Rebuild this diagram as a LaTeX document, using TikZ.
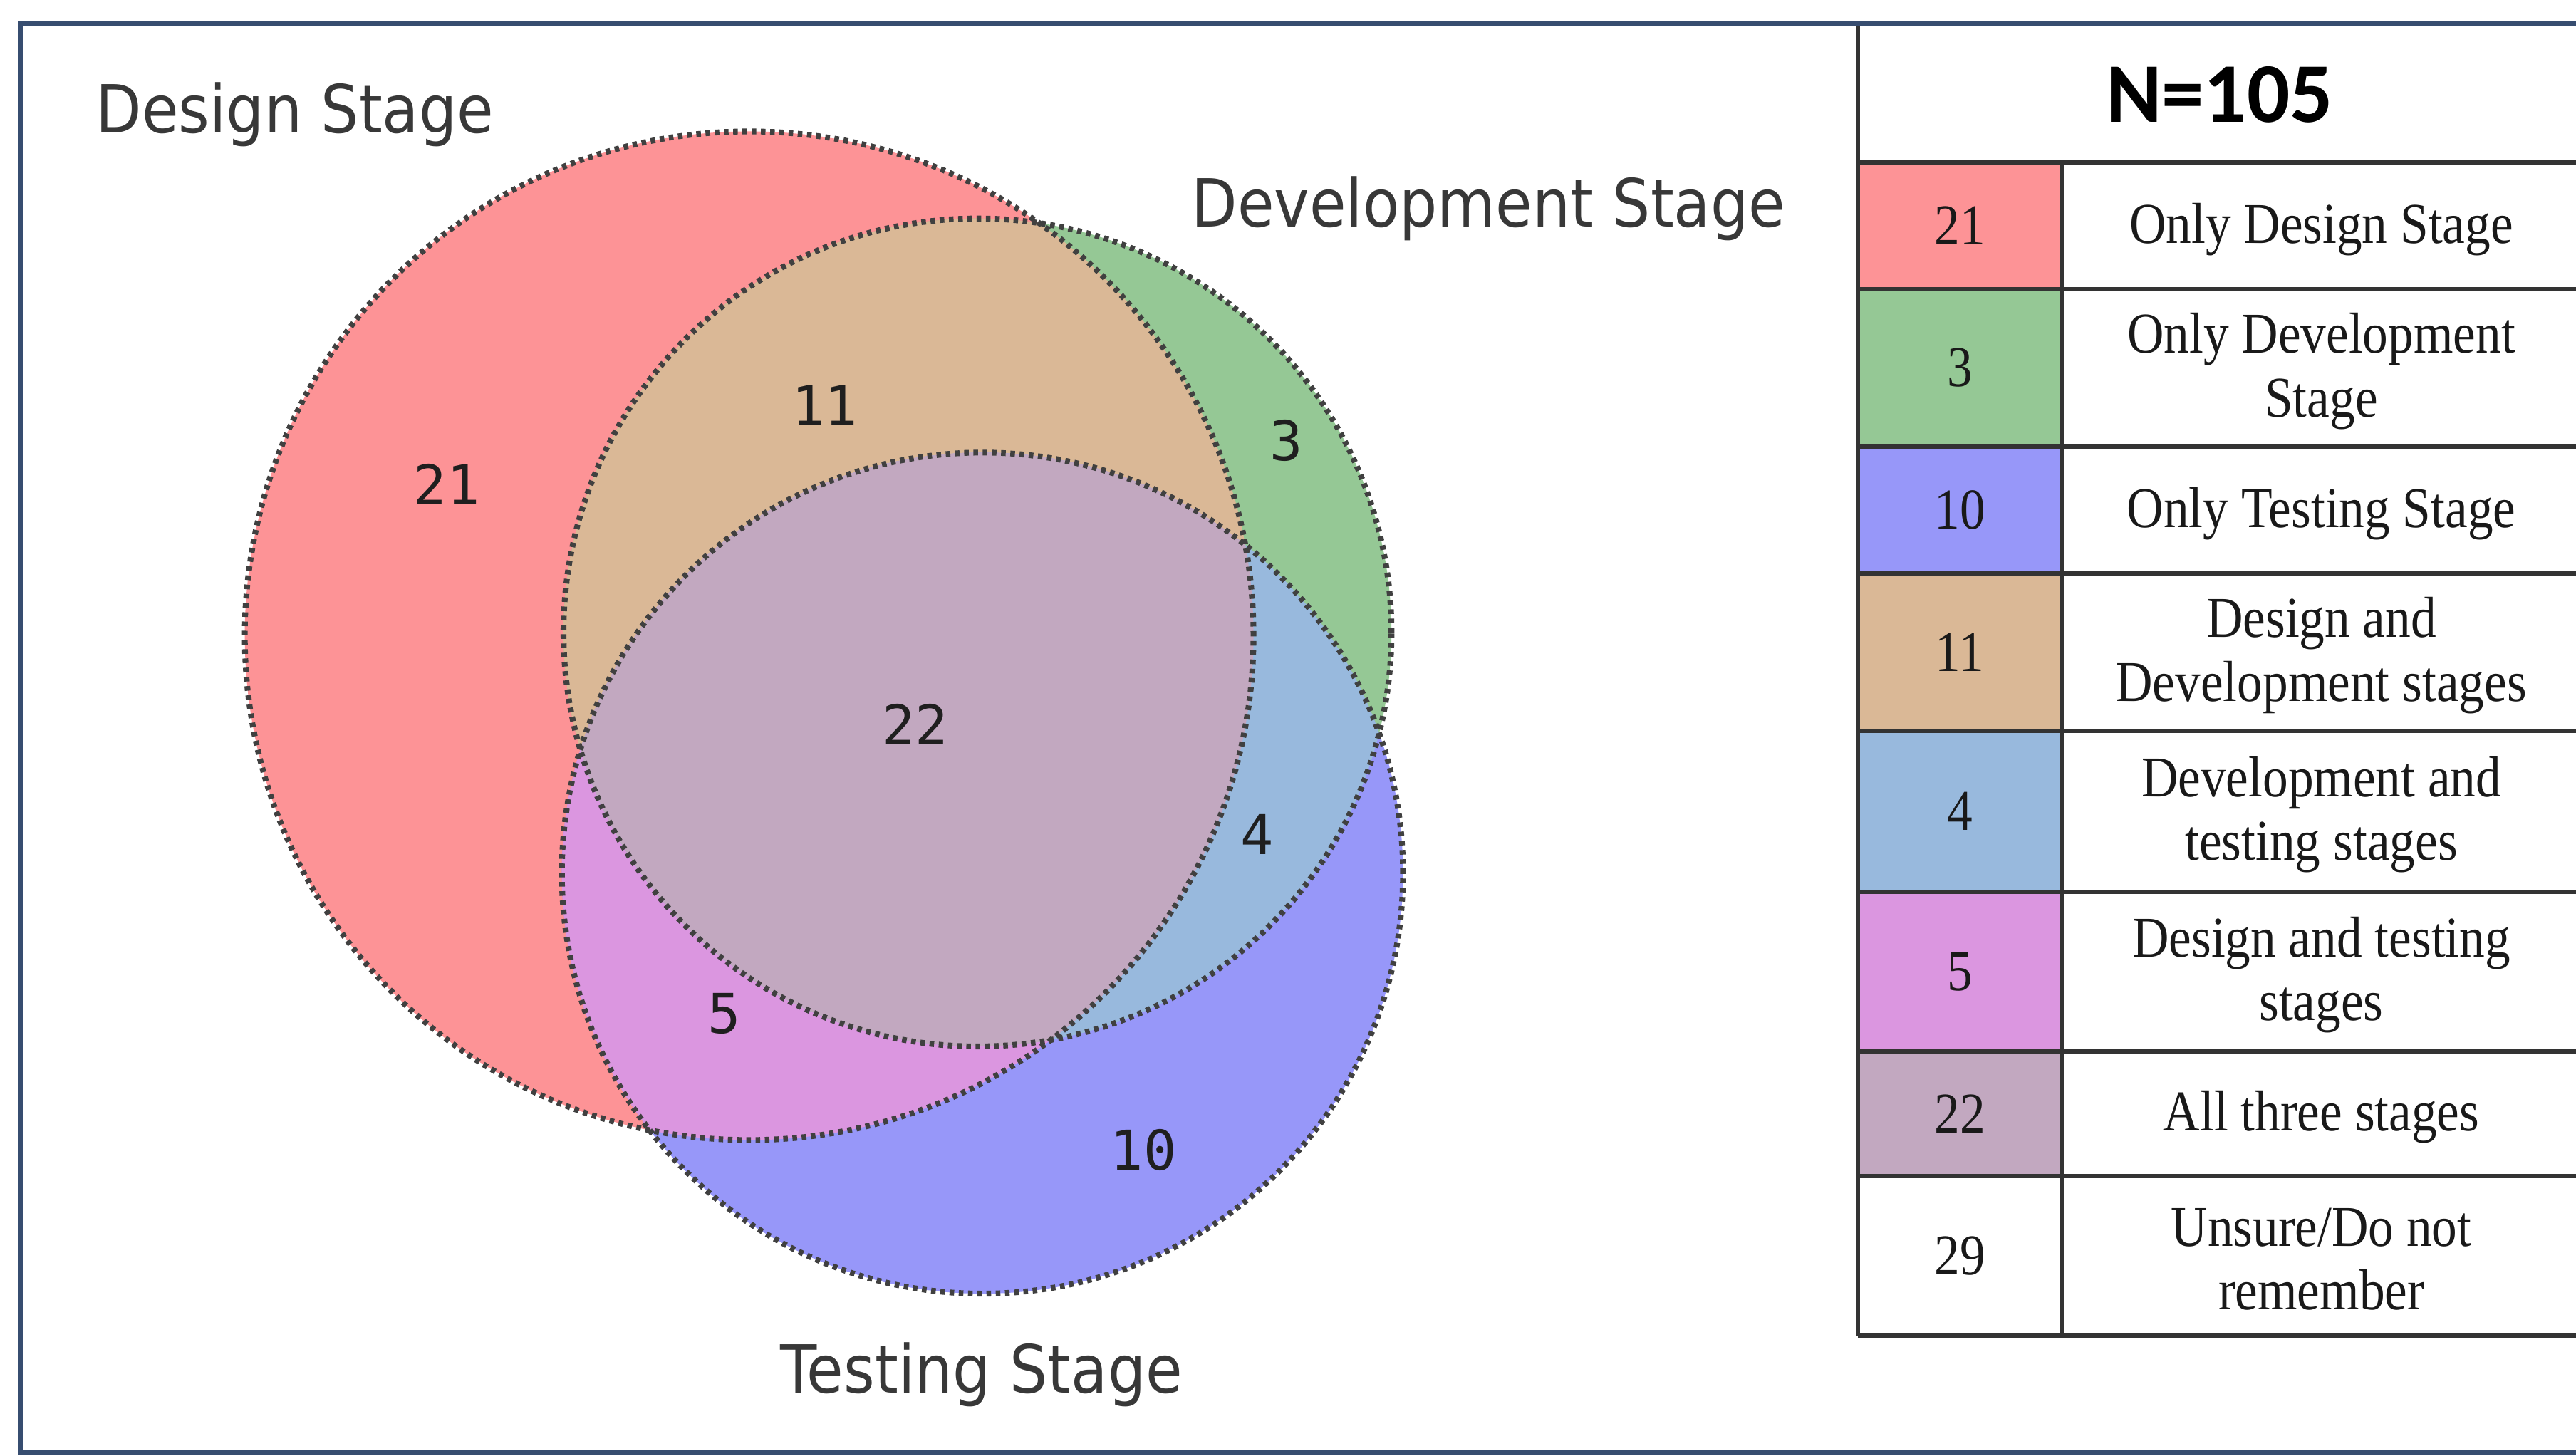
\documentclass[tikz,border=0pt]{standalone}
\usepackage{fontspec}
\setmainfont{Liberation Serif}
\newfontfamily\labelfont{DejaVu Sans}[FakeStretch=0.9]
\newfontfamily\countfont{DejaVu Sans Mono}
\newfontfamily\tablefont{Liberation Serif}[FakeStretch=0.88]
\newfontfamily\headfont{Carlito}
\usepackage{tikz}
\definecolor{cRed}{RGB}{253,147,150}
\definecolor{cGreen}{RGB}{149,200,149}
\definecolor{cBlue}{RGB}{151,151,249}
\definecolor{cTan}{RGB}{218,184,150}
\definecolor{cLBlue}{RGB}{152,185,221}
\definecolor{cPink}{RGB}{219,150,224}
\definecolor{cMauve}{RGB}{194,168,192}
\definecolor{cFrame}{RGB}{55,77,112}
\tikzset{
  venn/.style={draw=black!75, line width=1pt, dash pattern=on 0.8pt off 0.8pt},
  setname/.style={font=\labelfont\fontsize{11.5}{13}\selectfont, text=black!78, inner sep=0pt, anchor=base},
  regionnum/.style={font=\countfont\fontsize{9.5}{11}\selectfont, text=black!88, inner sep=0pt},
  cell/.style={font=\tablefont\fontsize{10}{11}\selectfont, text=black!90, align=center, inner sep=0pt},
  tabline/.style={draw=black!80, line width=0.7pt},
  outerframe/.style={draw=cFrame, line width=0.9pt}
}

\begin{document}
\begin{tikzpicture}[x=0.1mm,y=-0.1mm]
  \useasboundingbox (0,0) rectangle (1568,886);
  \coordinate (A) at (456,387);
  \coordinate (B) at (595,385);
  \coordinate (C) at (598,531.5);
  %Circles
  \fill[cRed] (A) circle[radius=30.7mm];
  \fill[cGreen] (B) circle[radius=25.2mm];
  \fill[cBlue] (C) circle[radius=25.6mm];
  \begin{scope}
    \clip (A) circle[radius=30.7mm];
    \fill[cTan] (B) circle[radius=25.2mm];
    \fill[cPink] (C) circle[radius=25.6mm];
  \end{scope}
  \begin{scope}
    \clip (B) circle[radius=25.2mm];
    \fill[cLBlue] (C) circle[radius=25.6mm];
    \clip (A) circle[radius=30.7mm];
    \fill[cMauve] (C) circle[radius=25.6mm];
  \end{scope}
  \draw[venn] (A) circle[radius=30.7mm];
  \draw[venn] (B) circle[radius=25.2mm];
  \draw[venn] (C) circle[radius=25.6mm];

  %Set names
  \node[setname] (LA) at (179.5,81) {Design Stage};
  \node[setname] (LB) at (906,138) {Development Stage};
  \node[setname] (LC) at (597.5,848) {Testing Stage};

  %Counts
  \node[regionnum] (R1) at (272,295) {21};
  \node[regionnum] (R2) at (502,247) {11};
  \node[regionnum] (R3) at (783,268) {3};
  \node[regionnum] (R4) at (557,441) {22};
  \node[regionnum] (R5) at (765,508) {4};
  \node[regionnum] (R6) at (441,617) {5};
  \node[regionnum] (R7) at (696,700) {10};

  %Table
  \node[font=\headfont\bfseries\fontsize{14.7}{16}\selectfont, inner sep=0pt, anchor=base] (N) at (1351,74.5) {N=105};
  \foreach \ya/\yb/\col/\num/\txt [count=\i] in {
      99/176/cRed/21/{Only Design Stage},
      176/272/cGreen/3/{Only Development\\Stage},
      272/349/cBlue/10/{Only Testing Stage},
      349/445/cTan/11/{Design and\\Development stages},
      445/543/cLBlue/4/{Development and\\testing stages},
      543/640/cPink/5/{Design and testing\\stages},
      640/716/cMauve/22/{All three stages},
      716/813/white/29/{Unsure/Do not\\remember}} {
    \fill[\col] (1131,\ya) rectangle (1255,\yb);
    \node[cell] (num\i) at (1193,{(\ya+\yb)/2}) {\num};
    \node[cell] (txt\i) at (1413,{(\ya+\yb)/2+2}) {\txt};
  }
  \draw[tabline] (1131,14) -- (1131,813);
  \draw[tabline] (1255,99) -- (1255,813);
  \foreach \y in {99,176,272,349,445,543,640,716,813}
    \draw[tabline] (1131,\y) -- (1568,\y);

  %Frame
  \draw[outerframe] (1568,14) -- (12.5,14) -- (12.5,884) -- (1568,884);
\end{tikzpicture}
\end{document}
